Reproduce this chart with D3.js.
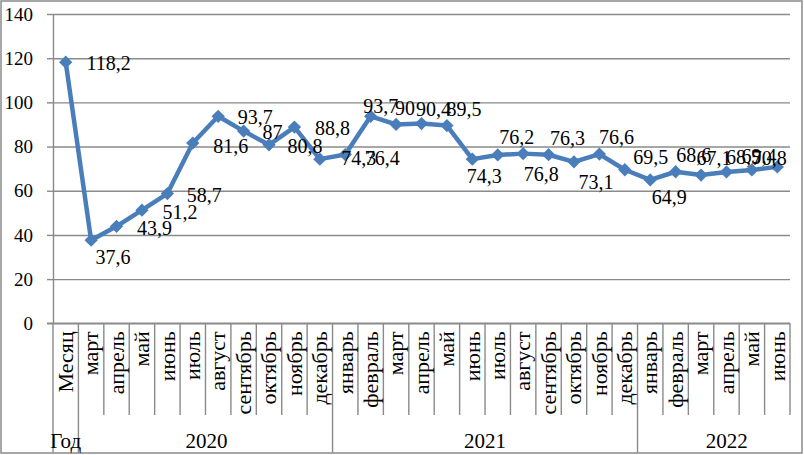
<!DOCTYPE html>
<html><head><meta charset="utf-8">
<script src="https://cdn.jsdelivr.net/npm/d3@7"></script>
<style>
html,body{margin:0;padding:0;background:#fff;}
svg{display:block;font-family:"Liberation Serif","Times New Roman",serif;}
</style></head>
<body>
<svg id="chart" width="804" height="455"></svg>
<script>
// ---- data ----
const categories = ["Месяц","март","апрель","май","июнь","июль","август","сентябрь","октябрь","ноябрь","декабрь",
  "январь","февраль","март","апрель","май","июнь","июль","август","сентябрь","октябрь","ноябрь","декабрь",
  "январь","февраль","март","апрель","май","июнь"];
const values = [118.2,37.6,43.9,51.2,58.7,81.6,93.7,87,80.8,88.8,74.3,
  76.4,93.7,90,90.4,89.5,74.3,76.2,76.8,76.3,73.1,76.6,69.5,
  64.9,68.6,67.1,68.5,69.4,70.8];
const yearLabels = ["2020","2021","2022"];
const yearCounts = [10,12,6];
const yearHeader = "Год";
const yTicks = [0,20,40,60,80,100,120,140];

// ---- layout (label offsets relative to point, px) ----
const labelOffsets = [[43,1],[22,17],[38,2],[38,2],[37,1],[38,3],[37,1],[29,1],[36,1],[38,1],[39,-1],
  [37,3],[10,-10],[9,-16],[12,-15],[17,-17],[12,17],[19,-18],[18,20],[19,-17],[22,20],[17,-17],[26,-13],
  [19,17],[18,-17],[13,-17],[17,-15],[7,-14],[-8,-9]];
const yearOffsets = [1,0,13];

const svg = d3.select("#chart");
const W = 804, H = 455;
const pL = 53, pR = 790, pT = 14, pB = 323.3;
const catBottom = 415, groupBottom = 453;

svg.append("rect").attr("x",1).attr("y",1).attr("width",W-3).attr("height",H-3)
  .attr("fill","#fff").attr("stroke","#8a8a8a").attr("stroke-width",1.5);

const x = d3.scaleBand().domain(d3.range(categories.length)).range([pL,pR]).padding(0);
const y = d3.scaleLinear().domain([0,140]).range([pB,pT]);

// gridlines
const grid = svg.append("g").attr("transform",`translate(${pL},0)`)
  .call(d3.axisLeft(y).tickValues(yTicks).tickSize(-(pR-pL)).tickFormat(""));
grid.select(".domain").remove();
grid.selectAll("line").attr("stroke","#8a8a8a").attr("stroke-width",1.4);

// y axis
const yAx = svg.append("g").attr("transform",`translate(${pL},0)`)
  .call(d3.axisLeft(y).tickValues(yTicks).tickSize(6).tickPadding(14).tickSizeOuter(0));
yAx.select(".domain").attr("stroke","#8a8a8a").attr("stroke-width",1.4);
yAx.selectAll("line").attr("stroke","#8a8a8a").attr("stroke-width",1.4);
yAx.selectAll("text").attr("font-size",19).attr("fill","#000")
  .attr("font-family","Liberation Serif, Times New Roman, serif");

// category dividers
const groupStarts = [0,1];
let acc = 1;
yearCounts.forEach(c => { acc += c; groupStarts.push(acc); });
const bounds = d3.range(categories.length + 1);
svg.append("g").selectAll("line").data(bounds).join("line")
  .attr("x1", i => i < categories.length ? x(i) : pR)
  .attr("x2", i => i < categories.length ? x(i) : pR)
  .attr("y1", pB)
  .attr("y2", i => (groupStarts.includes(i) && i < categories.length) ? groupBottom : catBottom)
  .attr("stroke","#8a8a8a").attr("stroke-width",1.4);

// x axis category labels
const xAx = svg.append("g").attr("transform",`translate(0,${pB})`)
  .call(d3.axisBottom(x).tickSize(0).tickFormat(i => categories[i]));
xAx.select(".domain").attr("stroke","#8a8a8a").attr("stroke-width",1.4)
  .attr("d",`M${pL-6},0H${pR}`);
xAx.selectAll("text").attr("transform","rotate(-90)")
  .attr("x",-8).attr("y",0).attr("dy","0.33em").attr("text-anchor","end")
  .attr("font-size",22).attr("fill","#000")
  .attr("font-family","Liberation Serif, Times New Roman, serif");

// year labels
svg.append("text").attr("x", x(0) + x.bandwidth()/2).attr("y",448)
  .attr("text-anchor","middle").attr("font-size",21).text(yearHeader);
yearLabels.forEach((lab, k) => {
  const s = groupStarts[k+1], e = groupStarts[k+2] - 1;
  const gx = (x(s) + x(e) + x.bandwidth())/2 + yearOffsets[k];
  svg.append("text").attr("x",gx).attr("y",448).attr("text-anchor","middle")
    .attr("font-size",21).text(lab);
});

// line
const cx = i => x(i) + x.bandwidth()/2;
const line = d3.line().x((d,i) => cx(i)).y(d => y(d));
svg.append("path").datum(values).attr("d",line).attr("fill","none")
  .attr("stroke","#4a7ebb").attr("stroke-width",4.5).attr("stroke-linejoin","round");

// markers
const sym = d3.symbol().type(d3.symbolSquare).size(88);
svg.append("g").selectAll("path").data(values).join("path")
  .attr("d",sym)
  .attr("transform",(d,i) => `translate(${cx(i)},${y(d)}) rotate(45)`)
  .attr("fill","#4a7ebb");

// data labels
svg.append("g").selectAll("text").data(values).join("text")
  .attr("x",(d,i) => cx(i) + labelOffsets[i][0])
  .attr("y",(d,i) => y(d) + labelOffsets[i][1])
  .attr("text-anchor","middle").attr("dominant-baseline","central")
  .attr("font-size",20).attr("fill","#000")
  .text(d => String(d).replace(".", ","));
</script>
</body></html>
